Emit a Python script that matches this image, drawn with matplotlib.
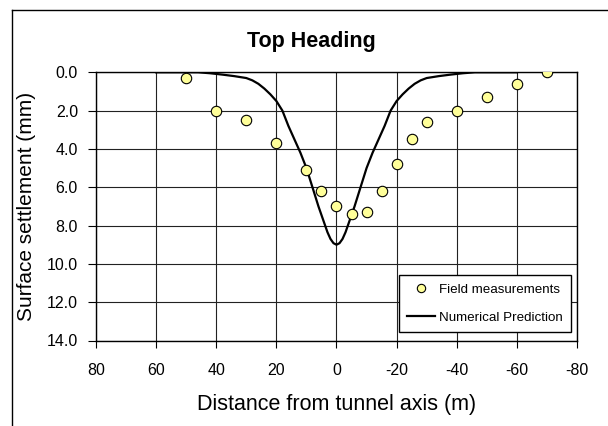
import numpy as np
import matplotlib
matplotlib.use("Agg")
import matplotlib.pyplot as plt
from matplotlib.lines import Line2D

plt.rcParams['font.family'] = ['Liberation Sans', 'DejaVu Sans']

# field measurements
meas_x = [50, 40, 30, 20, 10, 5, 0, -5, -10, -15, -20, -25, -30, -40, -50, -60, -70]
meas_y = [0.3, 2.0, 2.5, 3.7, 5.1, 6.2, 7.0, 7.4, 7.3, 6.2, 4.8, 3.5, 2.6, 2.0, 1.3, 0.6, 0.0]

# numerical prediction
pred_x = [60, 46, 42, 38, 34, 30, 28, 26, 24, 22, 20, 18, 16, 14, 12, 10, 8, 6, 4, 3, 2, 1, 0,
          -1, -2, -3, -4, -6, -8, -10, -12, -14, -16, -18, -20, -22, -24, -26, -28, -30,
          -34, -38, -42, -46, -60]
pred_y = [0.0, 0.0, 0.05, 0.12, 0.2, 0.3, 0.42, 0.6, 0.85, 1.15, 1.5, 2.0, 2.8, 3.5, 4.2,
          5.0, 6.0, 7.0, 7.9, 8.35, 8.7, 8.92, 9.0,
          8.92, 8.7, 8.35, 7.9, 7.0, 6.0, 5.0, 4.2, 3.5, 2.8, 2.0, 1.5, 1.15, 0.85, 0.6,
          0.42, 0.3, 0.2, 0.12, 0.05, 0.0, 0.0]

x_ticks = np.arange(80, -81, -20)
y_ticks = np.arange(0, 14.1, 2)

fig = plt.figure(figsize=(6.08, 4.26), dpi=100)
ax = fig.add_axes([96/608, 1 - 340.5/426, (577 - 96)/608, (340.5 - 72.3)/426])

ax.grid(True, color='#222222', linewidth=0.8)
ax.set_axisbelow(True)

ax.plot(meas_x, meas_y, 'o', markersize=7.5, markerfacecolor='#FFFF99',
        markeredgecolor='black', markeredgewidth=0.8, label='Field measurements', zorder=3)
ax.plot(pred_x, pred_y, '-', color='black', linewidth=1.6, label='Numerical Prediction', zorder=2)

ax.set_xlim(80, -80)
ax.set_ylim(14, 0)
ax.set_xticks(x_ticks)
ax.set_xticklabels([f'{v:d}' for v in x_ticks])
ax.set_yticks(y_ticks)
ax.set_yticklabels([f'{v:.1f}' for v in y_ticks])
ax.tick_params(axis='both', direction='out', color='black', labelsize=11.5)
ax.tick_params(axis='y', length=6, pad=7)
ax.tick_params(axis='x', length=5, pad=11)
for s in ax.spines.values():
    s.set_color('black')
    s.set_linewidth(1.0)

ax.set_xlabel('Distance from tunnel axis (m)', fontsize=15.5, labelpad=12)
ax.set_ylabel('Surface settlement (mm)', fontsize=15, labelpad=8)
fig.text(311/608, 1 - 41/426, 'Top Heading', fontsize=15.5, fontweight='bold',
         ha='center', va='center')

leg = ax.legend(loc='lower right', bbox_to_anchor=(570.7/608, 1 - 332/426),
                bbox_transform=fig.transFigure, fontsize=9.6, frameon=True,
                fancybox=False, edgecolor='black', framealpha=1,
                handlelength=2.1, handletextpad=0.3, labelspacing=1.2,
                borderpad=0.6, borderaxespad=0, markerscale=0.8)
leg.get_frame().set_linewidth(1.0)

# outer chart border
fig.add_artist(Line2D([11.5/608, 11.5/608], [0, 1 - 10/426], color='black', linewidth=1.0,
                      transform=fig.transFigure))
fig.add_artist(Line2D([11.5/608, 1], [1 - 10/426, 1 - 10/426], color='black', linewidth=1.0,
                      transform=fig.transFigure))

fig.savefig('out.png', dpi=100)
